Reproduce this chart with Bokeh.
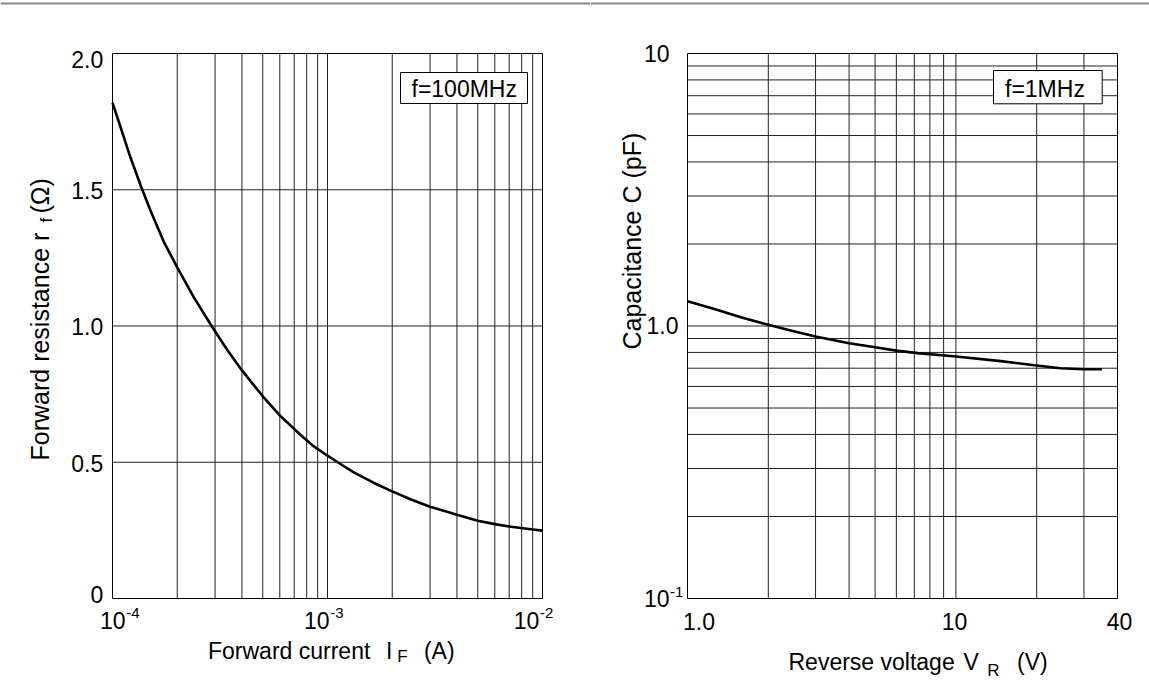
import math
from bokeh.plotting import figure
from bokeh.models import Label, Range1d, Span
from bokeh.layouts import row
from bokeh.embed import file_html
from bokeh.resources import INLINE

# ---------------- data ----------------
if_current = [1.0e-4, 1.09e-4, 1.21e-4, 1.36e-4, 1.5e-4, 1.73e-4, 2e-4, 2.39e-4, 2.9e-4,
              3.42e-4, 4e-4, 5e-4, 6e-4, 7.5e-4, 8.64e-4, 1e-3, 1.12e-3, 1.325e-3,
              1.645e-3, 2e-3, 2.43e-3, 3e-3, 4e-3, 5e-3, 6e-3, 7e-3, 9e-3, 1e-2]
rf = [1.82, 1.73, 1.62, 1.51, 1.425, 1.31, 1.215, 1.105, 0.998,
      0.912, 0.837, 0.742, 0.672, 0.600, 0.558, 0.524, 0.499, 0.463,
      0.424, 0.393, 0.364, 0.337, 0.307, 0.285, 0.273, 0.264, 0.253, 0.249]

vr = [1, 1.25, 1.58, 2, 2.42, 3, 4, 5, 6, 7.2, 10, 14.7, 20, 24.5, 30, 35]
cap = [1.233, 1.156, 1.077, 1.01, 0.963, 0.915, 0.865, 0.836, 0.812, 0.795,
       0.773, 0.743, 0.716, 0.70, 0.694, 0.694]

left_x_ticks = [1e-4, 1e-3, 1e-2]
left_x_exps = ["-4", "-3", "-2"]
left_y_ticks = [0, 0.5, 1.0, 1.5, 2.0]
left_y_labels = ["0", "0.5", "1.0", "1.5", "2.0"]
right_x_ticks = [1, 10, 40]
right_x_labels = ["1.0", "10", "40"]
right_y_ticks = [0.1, 1, 10]
right_y_labels = [("10", "-1"), ("1.0", ""), ("10", "")]

FONT = "Liberation Sans"
GRID = "#222222"
H = 684
TS = 23      # tick / title / legend font size (px)
VS = 25      # vertical title font size (px)
SUP = 15     # superscript size
SUB = 17     # subscript size

# ---- pixel layout of the two plot areas (canvas covers whole page) ----
L_X0, L_X1, TOP, BOT = 112, 542, 53, 598
R_X0, R_X1 = 687, 1117
L_W, R_W = 590, 559


def LX(px):
    return 10 ** (-4 + (px - L_X0) / ((L_X1 - L_X0) / 2.0))


def LY(py):
    return (BOT - py) / ((BOT - TOP) / 2.0)


R_DEC = (R_X1 - R_X0) / math.log10(40)


def RX(px):
    return 10 ** ((px - R_X0) / R_DEC)


def RY(py):
    return 10 ** (-1 + (BOT - py) / ((BOT - TOP) / 2.0))


def lab(p, x, y, text, dx=0.0, dy=0.0, size=TS, align="left", rot=False):
    # compensate the renderer's alphabetic-baseline offset
    fix = 0.35 * size
    if rot:
        dx -= fix
    else:
        dy += fix
    p.add_layout(Label(x=x, y=y, x_offset=dx, y_offset=dy, text=text, text_font=FONT,
                       text_font_size=f"{size}px", text_align=align, text_baseline="alphabetic",
                       angle=(math.pi / 2 if rot else 0), text_color="black"))


def base_fig(w, xr, yr, xtype, ytype):
    p = figure(x_axis_type=xtype, y_axis_type=ytype, x_range=xr, y_range=yr,
               width=w, height=H, min_border=0, toolbar_location=None,
               output_backend="svg", background_fill_color="white", border_fill_color="white")
    p.axis.visible = False
    p.grid.visible = False
    p.outline_line_color = None
    return p


def grid_and_frame(p, gx, gy, x0, x1, y0, y1):
    p.segment(x0=gx, y0=[y0] * len(gx), x1=gx, y1=[y1] * len(gx), line_color=GRID, line_width=1)
    p.segment(x0=[x0] * len(gy), y0=gy, x1=[x1] * len(gy), y1=gy, line_color=GRID, line_width=1)
    p.quad(left=[x0], right=[x1], bottom=[y0], top=[y1], fill_color=None, line_color="black", line_width=1)


# ---------------- left: forward resistance ----------------
p1 = base_fig(L_W, Range1d(LX(0), LX(L_W)), Range1d(LY(H), LY(0)), "log", "linear")
gx1 = [m * 10.0 ** e for e in (-4, -3) for m in range(2, 10)] + [1e-3]
gy1 = [t for t in left_y_ticks if 0 < t < 2]
grid_and_frame(p1, gx1, gy1, left_x_ticks[0], left_x_ticks[-1], left_y_ticks[0], left_y_ticks[-1])
p1.line(if_current, rf, line_color="black", line_width=2.6, line_join="round")
p1.add_layout(Span(location=LY(3), dimension="width", line_color="#8a8a8a", line_width=2))

# y tick labels
for t, s in zip(left_y_ticks, left_y_labels):
    dy = -14 if t == left_y_ticks[-1] else (-4 if t == left_y_ticks[0] else -9)
    lab(p1, left_x_ticks[0], t, s, dx=-9.3, dy=dy, align="right")
# x tick labels 10^n
x_pen = [-12.5, -23.5, -28.8]
for t, e, dx in zip(left_x_ticks, left_x_exps, x_pen):
    lab(p1, t, 0, "10", dx=dx, dy=-29.7)
    lab(p1, t, 0, e, dx=dx + 26.3, dy=-19.3, size=SUP)

# x title
lab(p1, LX(207.5), LY(658.3), "Forward current")
lab(p1, LX(385.5), LY(658.3), "I")
lab(p1, LX(396.7), LY(661.7), "F", size=SUB)
lab(p1, LX(423.4), LY(658.3), "(A)")

# y title (rotated, reads bottom to top)
lab(p1, LX(48), LY(460), "Forward resistance  r", size=VS, rot=True)
lab(p1, LX(51.5), LY(222), "f", size=SUB, rot=True)
lab(p1, LX(48), LY(213), "(\u03a9)", size=VS, rot=True)

# legend box
p1.quad(left=[LX(400)], right=[LX(527)], top=[LY(72)], bottom=[LY(103)],
        fill_color="white", line_color="black", line_width=1)
lab(p1, LX(411), LY(96.7), "f=100MHz")

# ---------------- right: capacitance ----------------
p2 = base_fig(R_W, Range1d(RX(L_W), RX(L_W + R_W)), Range1d(RY(H), RY(0)), "log", "log")
gx2 = [2, 3, 4, 5, 6, 7, 8, 9, 10, 20, 30]
gy2 = [m * 10.0 ** e for e in (-1, 0) for m in range(2, 10)] + [1]
grid_and_frame(p2, gx2, gy2, right_x_ticks[0], right_x_ticks[-1], right_y_ticks[0], right_y_ticks[-1])
p2.line(vr, cap, line_color="black", line_width=2.6, line_join="round")
p2.add_layout(Span(location=RY(3), dimension="width", line_color="#8a8a8a", line_width=2))

# x tick labels
lab(p2, right_x_ticks[0], right_y_ticks[0], right_x_labels[0], dx=-4.5, dy=-31, align="left")
lab(p2, right_x_ticks[1], right_y_ticks[0], right_x_labels[1], dx=-1.4, dy=-31, align="center")
lab(p2, right_x_ticks[2], right_y_ticks[0], right_x_labels[2], dx=2, dy=-31, align="center")
# y tick labels
for t, (b, e) in zip(right_y_ticks, right_y_labels):
    if e:
        lab(p2, right_x_ticks[0], t, b, dx=-18, dy=-8, align="right")
        lab(p2, right_x_ticks[0], t, e, dx=-17.5, dy=1, size=SUP, align="left")
    elif b == "10":
        lab(p2, right_x_ticks[0], t, b, dx=-18, dy=-8, align="right")
    else:
        lab(p2, right_x_ticks[0], t, b, dx=-9, dy=-7.5, align="right")

# x title
lab(p2, RX(788), RY(669.3), "Reverse voltage")
lab(p2, RX(963), RY(669.3), "V")
lab(p2, RX(986.7), RY(676), "R", size=SUB)
lab(p2, RX(1016.5), RY(669.3), "(V)")

# y title (rotated)
lab(p2, RX(640), RY(349), "Capacitance  C  (pF)", size=VS, rot=True)

# legend box
p2.quad(left=[RX(993)], right=[RX(1101.7)], top=[RY(70)], bottom=[RY(103.3)],
        fill_color="white", line_color="black", line_width=1)
lab(p2, RX(1004.5), RY(96.7), "f=1MHz")

layout = row(p1, p2)
open("out.html", "w").write(file_html(layout, INLINE))
